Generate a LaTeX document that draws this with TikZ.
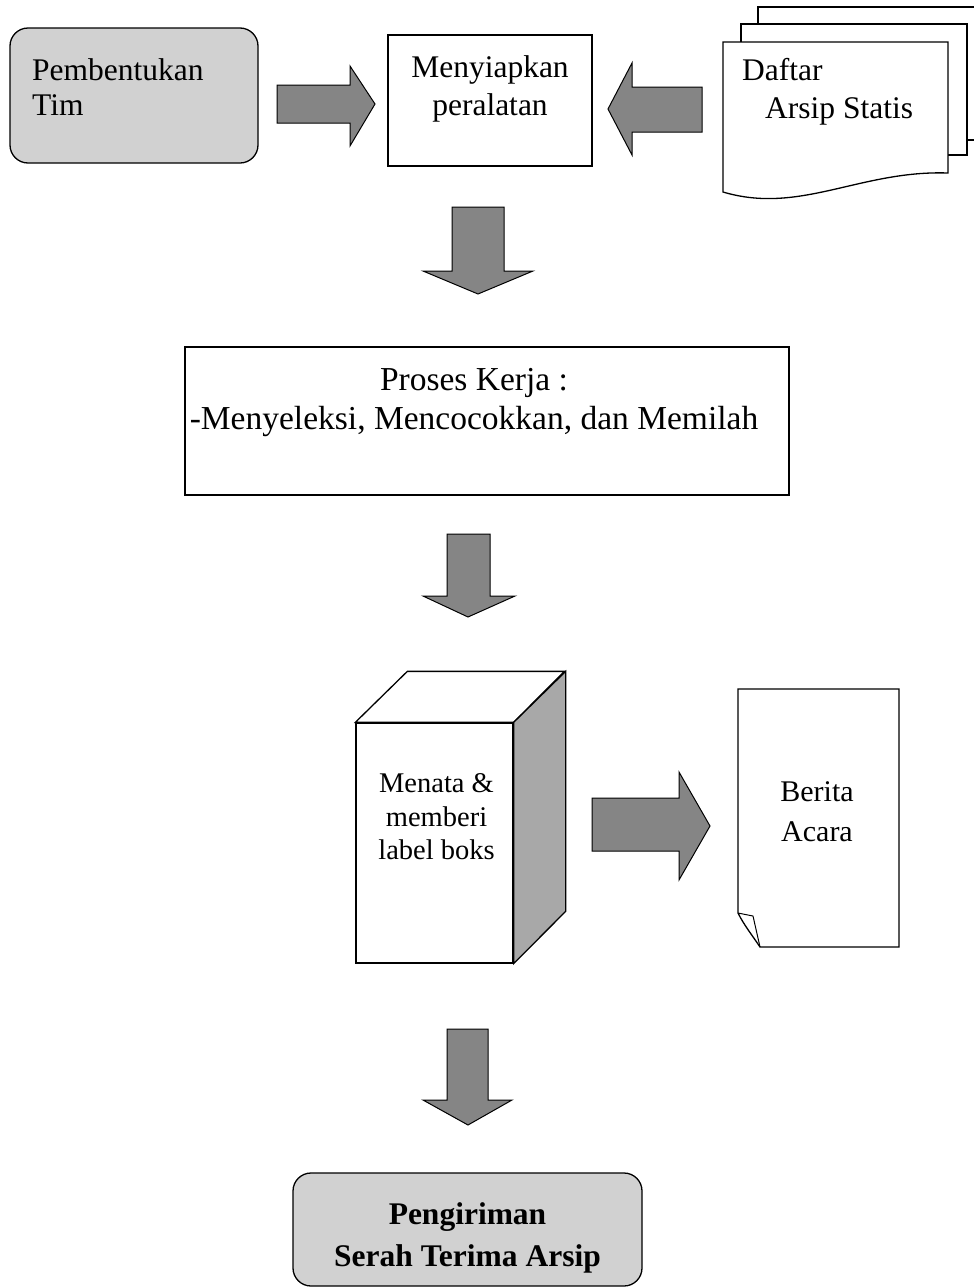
\documentclass[tikz,border=0pt]{standalone}
\usepackage{fontspec}
\setmainfont{Liberation Serif}
\usetikzlibrary{positioning}

\definecolor{arrowgray}{gray}{0.52}
\definecolor{softgray}{gray}{0.82}
\definecolor{sidegray}{gray}{0.66}

\tikzset{
  box/.style={draw, line width=1.3pt, inner sep=0pt},
  softbox/.style={box, rounded corners=18pt, fill=softgray},
  sheet/.style={draw, line width=1.3pt, fill=white},
  txt/.style={inner sep=0pt, align=center, font=\fontsize{31.5}{38.5}\selectfont},
  bigarrow/.style={draw, line width=1pt, fill=arrowgray, line join=miter}
}

\begin{document}
\begin{tikzpicture}[x=1pt,y=-1pt]
  \useasboundingbox (0,0) rectangle (974,1288);
  \node[softbox, minimum width=248pt, minimum height=135pt] (tim) at (134,95.5) {};
  \node[txt, align=left, anchor=north west, font=\fontsize{31.5}{35.5}\selectfont] (timT) at (32,58) {Pembentukan\\Tim};
  \node[box, minimum width=204pt, minimum height=131pt] (prep) at (490,100.5) {};
  \node[txt, below=21pt of prep.north] (prepT) {Menyiapkan\\peralatan};
  \draw[sheet] (758,7) rectangle (990,140);
  \draw[sheet] (741,24) rectangle (967,155);
  \draw[sheet] (723,192) -- (723,42) -- (948,42) -- (948,173) .. controls (860,170) and (800,215) .. (723,192) -- cycle;
  \node[txt, align=left, anchor=north west] (list) at (742,58) {Daftar\\\hspace*{23pt}Arsip Statis};
  \draw[bigarrow] (277,85) -- (350,85) -- (350,66) -- (375,104) -- (350,146) -- (350,123) -- (277,123) -- cycle;
  \draw[bigarrow] (702,87) -- (632,87) -- (632,63) -- (608,109) -- (632,155) -- (632,132) -- (702,132) -- cycle;
  \draw[bigarrow] (452,207) -- (504,207) -- (504,271) -- (533,271) -- (478,294) -- (423,271) -- (452,271) -- cycle;
  \node[box, minimum width=604pt, minimum height=148pt] (work) at (487,421) {};
  \node[txt, below=22pt of work.north, xshift=-13pt, font=\fontsize{33.5}{38.5}\selectfont] (workT) {Proses Kerja :\\-Menyeleksi, Mencocokkan, dan Memilah};
  \draw[bigarrow] (447,534) -- (490,534) -- (490,596) -- (515,596) -- (468,617) -- (423,596) -- (447,596) -- cycle;
  \node[box, fill=white, minimum width=157pt, minimum height=240pt] (crate) at (434.5,843) {};
  \draw[sheet] (crate.north west) -- ++(52,-51) -- ++(157,0) -- (crate.north east) -- cycle;
  \draw[sheet, fill=sidegray] (crate.north east) -- ++(52,-51) -- ++(0,240) -- (crate.south east) -- cycle;
  \node[txt, below=51pt of crate.north, xshift=2pt, font=\fontsize{28.5}{33.5}\selectfont] (crateT) {Menata \&\\memberi\\label boks};
  \draw[bigarrow] (592,798) -- (679,798) -- (679,772) -- (710,826) -- (679,880) -- (679,851) -- (592,851) -- cycle;
  \draw[sheet] (738,913) -- (738,689) -- (899,689) -- (899,947) -- (760,947) .. controls (752,935) and (744,925) .. (738,913) -- cycle;
  \draw[line width=1pt] (738,913) -- (753,916) -- (760,947);
  \node[txt, font=\fontsize{30}{40}\selectfont] (memoT) at (817,812) {Berita\\Acara};
  \draw[bigarrow] (447,1029) -- (488,1029) -- (488,1100) -- (512,1100) -- (468,1125) -- (423,1100) -- (447,1100) -- cycle;
  \node[softbox, minimum width=349pt, minimum height=113pt] (send) at (467.5,1229.5) {};
  \node[txt, below=30pt of send.north, font=\fontsize{31.5}{42}\selectfont\bfseries] (sendT) {Pengiriman\\Serah Terima Arsip};
\end{tikzpicture}
\end{document}
